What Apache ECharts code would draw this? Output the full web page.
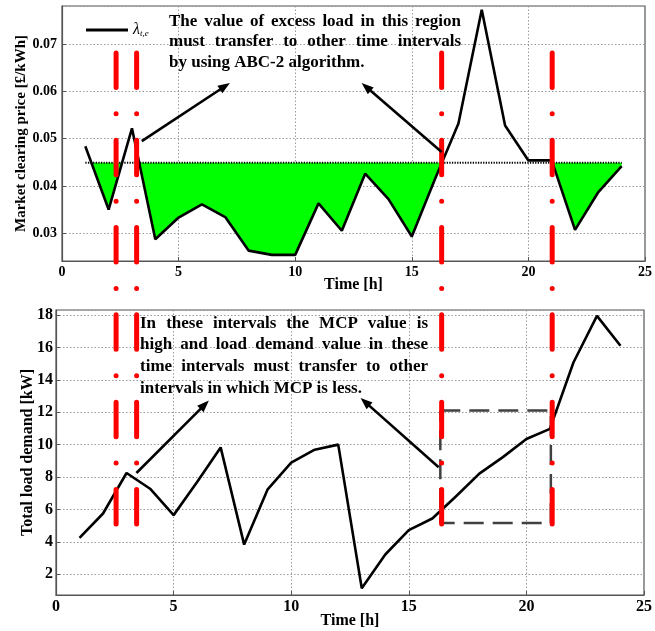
<!DOCTYPE html>
<html><head><meta charset="utf-8">
<script src="https://cdn.jsdelivr.net/npm/echarts@6/dist/echarts.min.js"></script>
<style>html,body{margin:0;padding:0;background:#fff}#c{width:655px;height:631px}</style>
</head><body><div id="c"></div>
<script>
// ---------- data ----------
const hours = [1,2,3,4,5,6,7,8,9,10,11,12,13,14,15,16,17,18,19,20,21,22,23,24];
const mcp = [0.0484,0.0350,0.0522,0.0287,0.0333,0.0361,0.0334,0.0263,0.0254,0.0254,0.0363,0.0305,
             0.0426,0.0372,0.0293,0.0415,0.0532,0.0773,0.0528,0.0454,0.0454,0.0307,0.0387,0.0442];
const load = [4.25,5.75,8.25,7.28,5.65,7.69,9.83,3.83,7.24,8.89,9.69,10.0,
              1.14,3.22,4.72,5.44,6.80,8.21,9.23,10.35,10.97,15.07,17.95,16.1];
const threshold = 0.0449;
const boxX = [16.34, 21.04];
const boxY = [5.17, 12.1];
const redX = [2.32, 3.2, 16.28, 21.02];
const redTopValue = 0.06816;   // start in upper chart
const redBottomValue = 3.5;    // end in lower chart
const arrowsTop = [[[3.42,0.0495],[7.2,0.0618]], [[16.28,0.0472],[12.85,0.0618]]];
const arrowsBottom = [[[3.42,8.25],[6.5,12.72]], [[16.27,8.6],[12.95,12.88]]];
const textTop = ['The value of excess load in this region', 'must transfer to other time intervals', 'by using ABC-2 algorithm.'];
const textBottom = ['In these intervals the MCP value is', 'high and load demand value in these', 'time intervals must transfer to other', 'intervals in which MCP is less.'];

const SERIF = '"Liberation Serif", "Times New Roman", serif';
const chart = echarts.init(document.getElementById('c'), null, {renderer: 'canvas'});

function splitLine() { return {show: true, lineStyle: {color: '#9a9a9a', type: [1.5, 2], width: 1}}; }
function axLine() { return {show: true, onZero: false, lineStyle: {color: '#555', width: 1.2}}; }
function axTick() { return {show: true, inside: true, length: 4, lineStyle: {color: '#555'}}; }

const boxData = [[boxX[0], boxY[1]], [boxX[1], boxY[1]], [boxX[1], boxY[0]], [boxX[0], boxY[0]], [boxX[0], boxY[1]]];

const option = {
  animation: false,
  backgroundColor: '#fff',
  grid: [
    {left: 62, top: 6, width: 583, height: 255, show: true, borderColor: '#555', borderWidth: 1.2, backgroundColor: 'transparent'},
    {left: 56, top: 310, width: 590, height: 285, show: true, borderColor: '#555', borderWidth: 1.2, backgroundColor: 'transparent'}
  ],
  legend: {
    data: ['lambda'], left: 81, top: 17, itemWidth: 42, itemHeight: 3, itemGap: 4, padding: 5,
    icon: 'rect',
    formatter: () => '{l|λ}{s|t,e}',
    textStyle: {rich: {
      l: {fontFamily: SERIF, fontStyle: 'italic', fontSize: 16, color: '#000', lineHeight: 17},
      s: {fontFamily: SERIF, fontStyle: 'italic', fontSize: 9, color: '#000', verticalAlign: 'bottom', lineHeight: 10}
    }}
  },
  xAxis: [
    {gridIndex: 0, type: 'value', min: 0, max: 25, interval: 5,
     name: 'Time [h]', nameLocation: 'middle', nameGap: 16, nameMoveOverlap: false,
     nameTextStyle: {fontFamily: SERIF, fontWeight: 'bold', fontSize: 16, color: '#000'},
     axisLine: axLine(), axisTick: axTick(), splitLine: splitLine(),
     axisLabel: {fontFamily: SERIF, fontWeight: 'bold', fontSize: 14, color: '#000', margin: 4}},
    {gridIndex: 1, type: 'value', min: 0, max: 25, interval: 5,
     name: 'Time [h]', nameLocation: 'middle', nameGap: 18, nameMoveOverlap: false,
     nameTextStyle: {fontFamily: SERIF, fontWeight: 'bold', fontSize: 16, color: '#000'},
     axisLine: axLine(), axisTick: axTick(), splitLine: splitLine(),
     axisLabel: {fontFamily: SERIF, fontWeight: 'bold', fontSize: 16, color: '#000', margin: 4}}
  ],
  yAxis: [
    {gridIndex: 0, type: 'value', min: 0.0241, max: 0.0781, splitNumber: 5,
     name: 'Market clearing price [£/kWh]', nameLocation: 'middle', nameGap: 33, nameMoveOverlap: false,
     nameTextStyle: {fontFamily: SERIF, fontWeight: 'bold', fontSize: 15, color: '#000'},
     axisLine: axLine(), axisTick: axTick(), splitLine: splitLine(),
     axisLabel: {fontFamily: SERIF, fontWeight: 'bold', fontSize: 14, color: '#000', margin: 5,
       showMinLabel: false, showMaxLabel: false,
       formatter: v => (Math.abs(v * 100 - Math.round(v * 100)) < 1e-6 ? v.toFixed(2) : '')}},
    {gridIndex: 1, type: 'value', min: 0.72, max: 18.31, splitNumber: 9,
     name: 'Total load demand [kW]', nameLocation: 'middle', nameGap: 20, nameMoveOverlap: false,
     nameTextStyle: {fontFamily: SERIF, fontWeight: 'bold', fontSize: 16, color: '#000'},
     axisLine: axLine(), axisTick: axTick(), splitLine: splitLine(),
     axisLabel: {fontFamily: SERIF, fontWeight: 'bold', fontSize: 16, color: '#000', margin: 3,
       showMinLabel: false, showMaxLabel: false,
       formatter: v => (Math.abs(v - Math.round(v)) < 1e-6 ? String(Math.round(v)) : '')}}
  ],
  series: [
    { // green area below threshold
      type: 'custom', xAxisIndex: 0, yAxisIndex: 0, data: [0], silent: true, z: 1,
      renderItem: function (params, api) {
        const yT = api.coord([0, threshold])[1];
        const pts = hours.map((h, i) => api.coord([h, mcp[i]]));
        const polys = [];
        let cur = null;
        for (let i = 0; i < pts.length; i++) {
          const p = pts[i];
          const below = p[1] > yT;
          if (i > 0) {
            const q = pts[i - 1];
            const qBelow = q[1] > yT;
            if (below !== qBelow) {
              const f = (yT - q[1]) / (p[1] - q[1]);
              const cx = q[0] + f * (p[0] - q[0]);
              if (below) { cur = [[cx, yT]]; }
              else { cur.push([cx, yT]); polys.push(cur); cur = null; }
            }
          } else if (below) { cur = [[p[0], yT]]; }
          if (below) cur.push(p);
        }
        if (cur) { cur.push([pts[pts.length - 1][0], yT]); polys.push(cur); }
        return {type: 'group', children: polys.map(pl => ({
          type: 'polygon', shape: {points: pl}, style: {fill: '#00ff00', stroke: null}
        }))};
      }
    },
    { // threshold dotted line
      type: 'line', xAxisIndex: 0, yAxisIndex: 0, data: [[hours[0], threshold], [hours[hours.length - 1], threshold]],
      showSymbol: false, symbol: 'none', silent: true, z: 3,
      lineStyle: {color: '#000', width: 2, type: [1.3, 1.3]}
    },
    {
      name: 'lambda', type: 'line', xAxisIndex: 0, yAxisIndex: 0,
      data: hours.map((h, i) => [h, mcp[i]]), symbol: 'none', z: 4,
      lineStyle: {color: '#000', width: 2.6}, itemStyle: {color: '#000'}
    },
    { // dashed box
      type: 'line', xAxisIndex: 1, yAxisIndex: 1, data: boxData, symbol: 'none', silent: true, z: 3,
      lineStyle: {color: '#404040', width: 2.5, type: [20, 9]}
    },
    {
      name: 'load', type: 'line', xAxisIndex: 1, yAxisIndex: 1,
      data: hours.map((h, i) => [h, load[i]]), symbol: 'none', z: 4,
      lineStyle: {color: '#000', width: 2.6}
    }
  ]
};
chart.setOption(option);

// ---------- annotations ----------
const graphics = [];
// red dash-dot lines spanning both panels
redX.forEach(x => {
  const px = chart.convertToPixel({gridIndex: 0}, [x, redTopValue]);
  const pb = chart.convertToPixel({gridIndex: 1}, [1, redBottomValue]);
  graphics.push({type: 'line', z: 100, silent: true,
    shape: {x1: px[0], y1: px[1], x2: px[0], y2: pb[1]},
    style: {stroke: '#ff0000', lineWidth: 5, lineCap: 'round', lineDash: [34.5, 26.4, 0.01, 26.4]}});
});
function arrow(gridIndex, a) {
  const s = chart.convertToPixel({gridIndex}, a[0]);
  const e = chart.convertToPixel({gridIndex}, a[1]);
  const dx = e[0] - s[0], dy = e[1] - s[1];
  const L = Math.hypot(dx, dy), ux = dx / L, uy = dy / L;
  const hl = 12, hw = 4.5;
  const bx = e[0] - ux * hl, by = e[1] - uy * hl;
  graphics.push({type: 'line', z: 101, silent: true,
    shape: {x1: s[0], y1: s[1], x2: bx + ux * 2, y2: by + uy * 2},
    style: {stroke: '#000', lineWidth: 2.6}});
  graphics.push({type: 'polygon', z: 101, silent: true,
    shape: {points: [[e[0], e[1]], [bx - uy * hw, by + ux * hw], [bx + uy * hw, by - ux * hw]]},
    style: {fill: '#000'}});
}
arrowsTop.forEach(a => arrow(0, a));
arrowsBottom.forEach(a => arrow(1, a));

// justified annotation text
const ctx = document.createElement('canvas').getContext('2d');
function justified(lines, x, width, ys, size) {
  const font = 'bold ' + size + 'px ' + SERIF;
  ctx.font = font;
  lines.forEach((line, li) => {
    const words = line.split(' ');
    const last = li === lines.length - 1;
    if (last) {
      graphics.push({type: 'text', z: 102, silent: true, x: x, y: ys[li],
        style: {text: line, font: font, fill: '#000', verticalAlign: 'middle', align: 'left'}});
      return;
    }
    const ws = words.map(w => ctx.measureText(w).width);
    const total = ws.reduce((a, b) => a + b, 0);
    const gap = (width - total) / (words.length - 1);
    let cx = x;
    words.forEach((w, i) => {
      graphics.push({type: 'text', z: 102, silent: true, x: cx, y: ys[li],
        style: {text: w, font: font, fill: '#000', verticalAlign: 'middle', align: 'left'}});
      cx += ws[i] + gap;
    });
  });
}
justified(textTop, 169, 292, [21.6, 42, 62.4], 17);
justified(textBottom, 140, 288, [323.6, 344.6, 366.2, 388.4], 17);

chart.setOption({graphic: graphics});
</script>
</body></html>
